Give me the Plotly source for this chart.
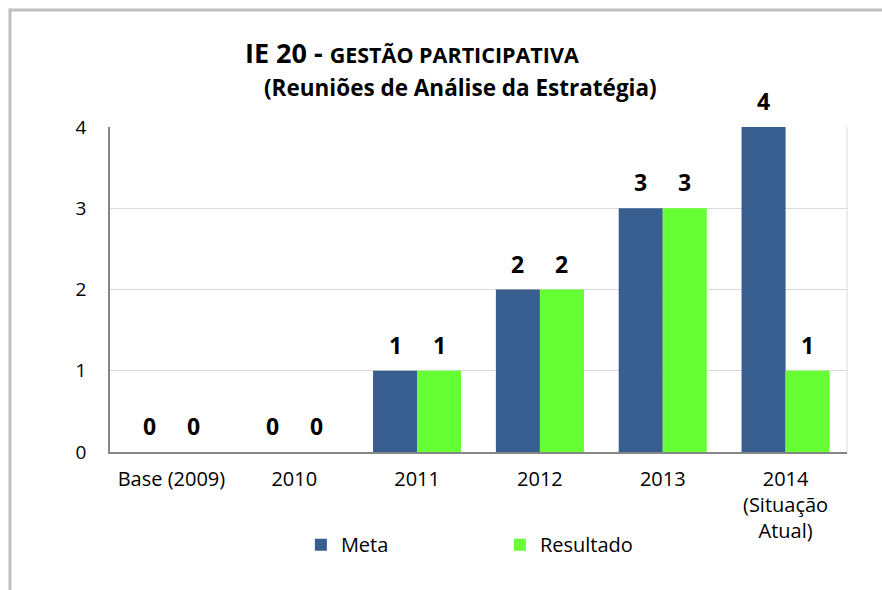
import plotly.graph_objects as go

categories = ["Base (2009)", "2010", "2011", "2012", "2013", "2014<br>(Situação<br>Atual)"]
meta = [0, 0, 1, 2, 3, 4]
resultado = [0, 0, 1, 2, 3, 1]
y_ticks = [0, 1, 2, 3, 4]

FONT = "Open Sans, DejaVu Sans, sans-serif"
C_META = "#375E8F"
C_RES = "#66FF33"

fig = go.Figure()
fig.add_trace(go.Bar(name="Meta", x=categories, y=meta, marker=dict(color=C_META, line=dict(width=0))))
fig.add_trace(go.Bar(name="Resultado", x=categories, y=resultado, marker=dict(color=C_RES, line=dict(width=0))))

annotations = []
for i, (m, r) in enumerate(zip(meta, resultado)):
    for val, sh in ((m, -22), (r, 22)):
        annotations.append(dict(x=i, y=val, xref="x", yref="y", text=f"<b>{val}</b>",
                                showarrow=False, xshift=sh, yshift=8, yanchor="bottom",
                                font=dict(family=FONT, size=23, color="#000")))

annotations.append(dict(xref="paper", yref="paper", x=0.41, y=1.228, showarrow=False,
                        text="<b><span style='font-size:27px'>IE 20 - </span>GESTÃO PARTICIPATIVA</b>",
                        font=dict(family=FONT, size=21.5, color="#000"), xanchor="center", yanchor="middle"))
annotations.append(dict(xref="paper", yref="paper", x=0.475, y=1.12, showarrow=False,
                        text="<b>(Reuniões de Análise da Estratégia)</b>",
                        font=dict(family=FONT, size=22.5, color="#000"), xanchor="center", yanchor="middle"))

shapes = [
    # outer frame (top and left)
    dict(type="line", xref="paper", yref="paper", x0=-0.137, x1=1.06, y0=1.36, y1=1.36,
         line=dict(color="#BFBFBF", width=3)),
    dict(type="line", xref="paper", yref="paper", x0=-0.1357, x1=-0.1357, y0=-0.43, y1=1.365,
         line=dict(color="#BFBFBF", width=3)),
    # right border of plot area
    dict(type="line", xref="paper", yref="paper", x0=1, x1=1, y0=0, y1=1,
         line=dict(color="#D9D9D9", width=1)),
]

fig.update_layout(
    width=882, height=590,
    margin=dict(l=110, r=35, t=127, b=138, autoexpand=False),
    paper_bgcolor="white", plot_bgcolor="white",
    barmode="group", bargap=0.283, bargroupgap=0,
    font=dict(family=FONT, size=20, color="#000"),
    showlegend=True,
    legend=dict(orientation="h", x=0.259, y=-0.225, xanchor="left", yanchor="top",
                entrywidth=154, entrywidthmode="pixels", font=dict(family=FONT, size=20),
                itemsizing="constant", bgcolor="rgba(0,0,0,0)"),
    annotations=annotations,
    shapes=shapes,
)
fig.update_xaxes(type="category", range=[-0.5, 5.5], showline=True, linecolor="#868686", linewidth=2,
                 ticks="", showgrid=False, tickfont=dict(family=FONT, size=20), ticklabelstandoff=8)
fig.update_yaxes(range=[0, 4], tickvals=y_ticks, showline=True, linecolor="#868686", linewidth=1.5,
                 gridcolor="#D9D9D9", gridwidth=1, ticks="", zeroline=False,
                 tickfont=dict(family=FONT, size=19), ticklabelstandoff=18)

fig.write_html("out.html", config={"displayModeBar": False},
               post_script="document.body.style.margin='0';")
